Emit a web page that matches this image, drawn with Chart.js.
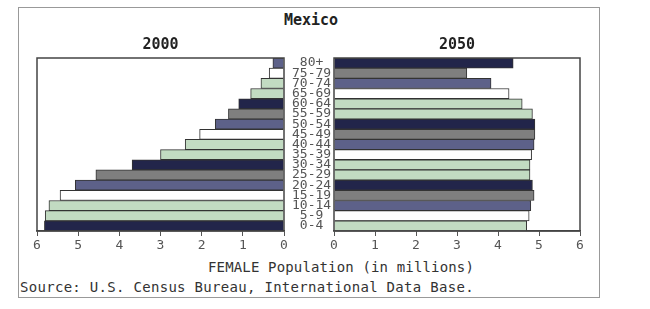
<!DOCTYPE html>
<html>
<head>
<meta charset="utf-8">
<script src="https://cdn.jsdelivr.net/npm/chart.js@4"></script>
<style>
  body { margin: 0; background: #fff; width: 650px; height: 309px; position: relative; overflow: hidden; }
  #frame { position: absolute; left: 18px; top: 7px; width: 580px; height: 289px; border: 1px solid #999; }
  canvas { position: absolute; }
  #leftChart { left: 20px; top: 30px; }
  #rightChart { left: 324px; top: 30px; }
  .txt { position: absolute; font-family: "DejaVu Sans Mono", monospace; color: #222; white-space: nowrap; }
  #mainTitle { left: 250px; width: 122px; top: 11px; text-align: center; font-size: 15px; font-weight: bold; }
  #axisTitle { left: 191px; width: 300px; top: 259px; text-align: center; font-size: 14px; color: #333; letter-spacing: 0.15px; }
  #source { left: 20px; top: 279px; font-size: 14px; color: #333; letter-spacing: 0.3px; }
</style>
</head>
<body>
<div id="frame"></div>
<div class="txt" id="mainTitle">Mexico</div>
<canvas id="leftChart" width="314" height="227"></canvas>
<canvas id="rightChart" width="276" height="227"></canvas>
<div class="txt" id="axisTitle">FEMALE Population (in millions)</div>
<div class="txt" id="source">Source: U.S. Census Bureau, International Data Base.</div>
<script>
// 年齢階級（上から下）
const ageGroups = ['80+', '75-79', '70-74', '65-69', '60-64', '55-59', '50-54', '45-49', '40-44',
                   '35-39', '30-34', '25-29', '20-24', '15-19', '10-14', '5-9', '0-4'];
// 女性人口（百万人）
const female2000 = [0.27, 0.36, 0.56, 0.81, 1.1, 1.35, 1.67, 2.05, 2.4,
                    3.0, 3.69, 4.57, 5.07, 5.44, 5.71, 5.8, 5.82];
const female2050 = [4.37, 3.24, 3.83, 4.27, 4.59, 4.84, 4.9, 4.9, 4.88,
                    4.82, 4.78, 4.78, 4.84, 4.88, 4.8, 4.76, 4.7];
const xTicks = [0, 1, 2, 3, 4, 5, 6];

const palette = ['#22254a', '#c2dbc2', '#c2dbc2', '#ffffff', '#5d6189', '#7f7f7f'];
const mono = "'DejaVu Sans Mono', monospace";

// 下から数えて色を繰り返す
function barColors(offset) {
    const n = ageGroups.length;
    return ageGroups.map((_, i) => palette[((n - 1 - i) + offset) % 6]);
}

// プロット枠を描く
const frameBox = {
    id: 'frameBox',
    afterDraw(chart) {
        const a = chart.chartArea;
        const ctx = chart.ctx;
        ctx.save();
        ctx.strokeStyle = '#444';
        ctx.lineWidth = 1.5;
        ctx.strokeRect(a.left, a.top, a.right - a.left, a.bottom - a.top);
        ctx.restore();
    }
};

function xScale(reverse) {
    return {
        type: 'linear',
        min: 0,
        max: 6,
        reverse: reverse,
        afterBuildTicks: s => { s.ticks = xTicks.map(v => ({ value: v })); },
        afterFit: s => { s.height = 26; },
        grid: { drawOnChartArea: false, tickLength: 5, color: '#555' },
        border: { color: '#444', width: 1.5 },
        ticks: { color: '#555', font: { family: mono, size: 13 }, padding: 2, maxRotation: 0 }
    };
}

function titleOpts(text) {
    return {
        display: true,
        text: text,
        fullSize: false,
        color: '#222',
        font: { family: mono, size: 15, weight: 'bold' },
        padding: { top: 6, bottom: 4 }
    };
}

// 2000年（左）
new Chart(document.getElementById('leftChart'), {
    type: 'bar',
    data: {
        labels: ageGroups,
        datasets: [{
            data: female2000,
            backgroundColor: barColors(0),
            borderColor: '#333',
            borderWidth: 1,
            barPercentage: 1,
            categoryPercentage: 1
        }]
    },
    options: {
        indexAxis: 'y',
        responsive: false,
        animation: false,
        layout: { padding: { left: 17, right: 0, top: 0, bottom: 0 } },
        plugins: { legend: { display: false }, tooltip: { enabled: false }, title: titleOpts('2000') },
        scales: {
            x: xScale(true),
            y: {
                position: 'right',
                afterFit: s => { s.width = 50; },
                grid: { display: false },
                border: { display: false },
                ticks: { autoSkip: false, crossAlign: 'center', padding: 0, color: '#555', font: { family: mono, size: 13 } }
            }
        }
    },
    plugins: [frameBox]
});

// 2050年（右）
new Chart(document.getElementById('rightChart'), {
    type: 'bar',
    data: {
        labels: ageGroups,
        datasets: [{
            data: female2050,
            backgroundColor: barColors(2),
            borderColor: '#333',
            borderWidth: 1,
            barPercentage: 1,
            categoryPercentage: 1
        }]
    },
    options: {
        indexAxis: 'y',
        responsive: false,
        animation: false,
        layout: { padding: { left: 10, right: 20, top: 0, bottom: 0 } },
        plugins: { legend: { display: false }, tooltip: { enabled: false }, title: titleOpts('2050') },
        scales: {
            x: xScale(false),
            y: { display: false }
        }
    },
    plugins: [frameBox]
});
</script>
</body>
</html>
